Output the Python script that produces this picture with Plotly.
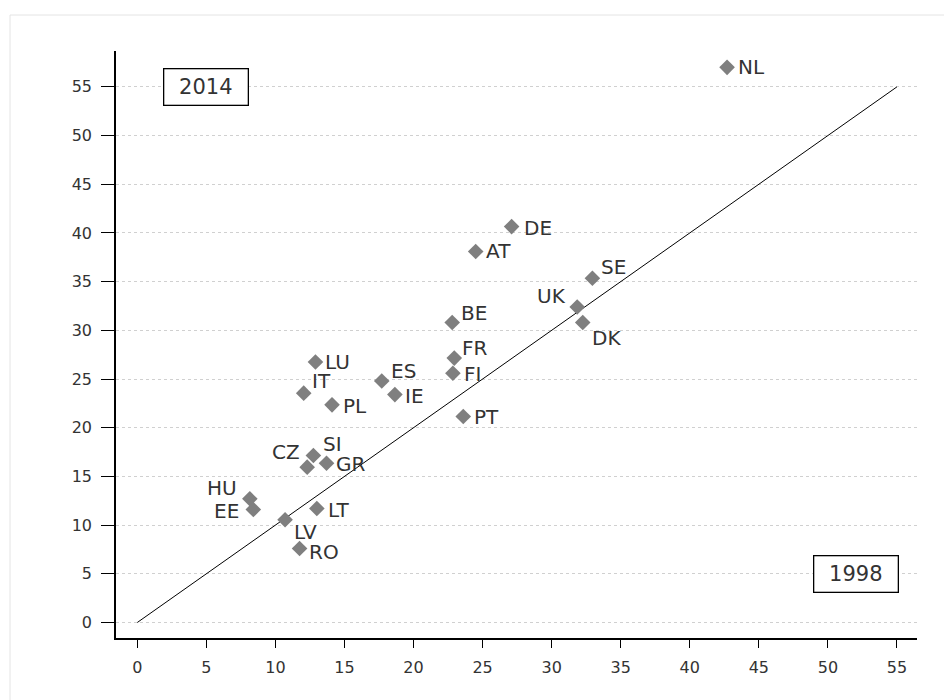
import plotly.graph_objects as go

# ---- data ----
countries = ["NL", "DE", "AT", "SE", "UK", "DK", "BE", "FR", "FI", "LU", "ES", "IT",
             "IE", "PL", "PT", "SI", "CZ", "GR", "HU", "EE", "LT", "LV", "RO"]
x1998 = [42.7, 27.1, 24.5, 32.95, 31.85, 32.25, 22.8, 22.95, 22.85, 12.9, 17.7, 12.05,
         18.65, 14.1, 23.6, 12.75, 12.3, 13.7, 8.15, 8.4, 13.0, 10.7, 11.75]
y2014 = [57.0, 40.65, 38.1, 35.35, 32.4, 30.8, 30.8, 27.15, 25.6, 26.75, 24.8, 23.55,
         23.4, 22.35, 21.15, 17.15, 15.95, 16.35, 12.7, 11.6, 11.7, 10.55, 7.6]
diag = [0, 55]
tick_vals = [0, 5, 10, 15, 20, 25, 30, 35, 40, 45, 50, 55]

# label placement (style): anchor, x offset px, y offset px (up positive)
label_pos = {
    "NL": ("left", 13, 0), "DE": ("left", 14, -1), "AT": ("left", 12, 0),
    "SE": ("left", 11, 11), "UK": ("right", -11, 11), "DK": ("left", 11, -15),
    "BE": ("left", 11, 10), "FR": ("left", 10, 10), "FI": ("left", 13, -1),
    "LU": ("left", 12, 0), "ES": ("left", 11, 10), "IT": ("left", 10, 12),
    "IE": ("left", 12, -1), "PL": ("left", 13, -1), "PT": ("left", 13, 0),
    "SI": ("left", 12, 11), "CZ": ("right", -7, 15), "GR": ("left", 11, -1),
    "HU": ("right", -13, 11), "EE": ("right", -14, -1), "LT": ("left", 13, -1),
    "LV": ("left", 11, -12), "RO": ("left", 11, -4),
}

FONT = "DejaVu Sans"
TXT = "#333333"

fig = go.Figure()
fig.add_trace(go.Scatter(x=diag, y=diag, mode="lines",
                         line=dict(color="black", width=1), hoverinfo="skip",
                         showlegend=False))
fig.add_trace(go.Scatter(x=x1998, y=y2014, mode="markers", text=countries,
                         marker=dict(symbol="diamond", size=12, color="#7f7f7f",
                                     line=dict(width=0)),
                         showlegend=False))

annotations = []
for c, xv, yv in zip(countries, x1998, y2014):
    anc, dx, dy = label_pos[c]
    annotations.append(dict(
        x=xv, y=yv, text=c, showarrow=False, xanchor=anc, yanchor="middle",
        xshift=dx - 4 if anc == "left" else dx + 2, yshift=dy,
        font=dict(family=FONT, size=20, color=TXT)))

for txt, xv, yv in [("2014", 5.0, 55), ("1998", 52.05, 5)]:
    annotations.append(dict(
        x=xv, y=yv, text=txt, showarrow=False, xanchor="center", yanchor="middle",
        width=81, height=33, borderpad=1, bordercolor="black", borderwidth=1.3,
        bgcolor="white", font=dict(family=FONT, size=21, color=TXT)))

# the page body adds an 8px offset, so the figure is 8px smaller on each axis
fig.update_layout(
    width=944, height=692,
    margin=dict(l=108, r=35, t=43, b=62),
    paper_bgcolor="white", plot_bgcolor="white",
    font=dict(family=FONT, size=16, color=TXT),
    annotations=annotations,
    shapes=[dict(type="rect", xref="paper", yref="paper",
                 x0=-0.1323, x1=1.05, y0=-0.2, y1=1.0613,
                 line=dict(color="#e4e4e4", width=1), layer="below")],
    showlegend=False,
)
fig.update_xaxes(range=[-1.54, 56.45], tickvals=tick_vals, showgrid=False,
                 zeroline=False, showline=True, linecolor="black", linewidth=1.5,
                 ticks="outside", ticklen=8, tickwidth=1.3, tickcolor="black",
                 ticklabelstandoff=6,
                 tickfont=dict(family=FONT, size=16, color=TXT))
fig.update_yaxes(range=[-1.59, 58.68], tickvals=tick_vals, showgrid=True,
                 gridcolor="#d0d0d0", gridwidth=1, griddash="dot",
                 zeroline=False, showline=True, linecolor="black", linewidth=1.5,
                 ticks="outside", ticklen=13, tickwidth=1.3, tickcolor="black",
                 ticklabelstandoff=6,
                 tickfont=dict(family=FONT, size=16, color=TXT))

fig.write_html("out.html")
